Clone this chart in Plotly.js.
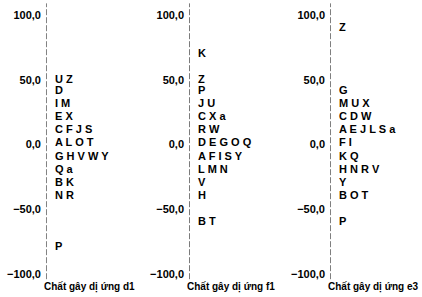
<!DOCTYPE html>
<html>
<head>
<meta charset="utf-8">
<script src="https://cdn.plot.ly/plotly-3.0.1.min.js"></script>
<style>html,body{margin:0;padding:0;background:#fff}#chart{width:422px;height:297px}</style>
</head>
<body>
<div id="chart"></div>
<script>
// Letters (samples) and their positions on each allergen scale
const letters = ["A","B","C","D","E","F","G","H","I","J","K","L","M","N","O","P","Q","R","S","T","U","V","W","X","Y","Z","a"];
const valuesD1 = [1,-30,11,41,21,11,-10,-10,31,11,-30,1,31,-40,1,-79,-20,-40,11,1,50,-10,-10,21,-10,50,-20];
const valuesF1 = [-10,-60,21,1,1,-10,1,-40,-10,31,70,-20,-20,-20,1,41,1,11,-10,-60,31,-30,11,21,-10,50,21];
const valuesE3 = [11,-40,21,21,11,1,41,-20,1,11,-10,11,31,-20,-40,-60,-10,-20,11,-40,31,-20,21,31,-30,90,11];
const panelTitles = ["Chất gây dị ứng d1","Chất gây dị ứng f1","Chất gây dị ứng e3"];
const tickValues = [-100,-50,0,50,100];

const series = [valuesD1, valuesF1, valuesE3];
const W = 422;
const font = {family: "Liberation Sans, Arial, sans-serif", size: 11, color: "#000", weight: "bold"};
const titleFont = {family: "Liberation Sans, Arial, sans-serif", size: 10, color: "#000", weight: "bold"};
const domains = [[0.109,0.40],[0.448,0.74],[0.782,1.0]];
const LABEL_GAP = 9; // px between axis line and letters

const traces = [];
const layout = {
  width: W, height: 297,
  margin: {l: 0, r: 0, t: 15, b: 23},
  paper_bgcolor: "#fff", plot_bgcolor: "#fff",
  showlegend: false,
  separators: ",.",
  font: font,
  shapes: [], annotations: []
};

series.forEach((vals, i) => {
  const sfx = i === 0 ? "" : String(i + 1);
  const widthPx = (domains[i][1] - domains[i][0]) * W;
  // group letters sharing a value into one row
  const rows = new Map();
  vals.forEach((v, k) => {
    if (!rows.has(v)) rows.set(v, []);
    rows.get(v).push(letters[k]);
  });
  const ys = [...rows.keys()];
  const txt = ys.map(v => rows.get(v).join(" "));
  traces.push({
    type: "scatter", mode: "text",
    x: ys.map(() => LABEL_GAP), y: ys, text: txt,
    textposition: "middle right",
    textfont: font,
    xaxis: "x" + sfx, yaxis: "y" + sfx,
    hoverinfo: "skip", cliponaxis: false
  });
  layout["xaxis" + sfx] = {
    domain: domains[i], range: [0, widthPx], visible: false, fixedrange: true,
    anchor: "y" + sfx
  };
  layout["yaxis" + sfx] = {
    domain: [0, 1], range: [-100, 100], anchor: "x" + sfx,
    tickvals: tickValues, tickformat: ".1f",
    showgrid: false, zeroline: false, showline: false, ticks: "",
    ticklabelstandoff: 4,
    tickfont: font
  };
  layout.shapes.push({
    type: "line", xref: "x" + sfx, yref: "y" + sfx + " domain",
    x0: 0, x1: 0, y0: -0.02, y1: 1.045,
    line: {color: "#000", width: 1, dash: "6px,2px"}
  });
  layout.annotations.push({
    text: panelTitles[i], xref: "x" + sfx + " domain", yref: "y" + sfx + " domain",
    x: 0, y: 0, xanchor: "left", yanchor: "middle", xshift: -4, yshift: -13,
    showarrow: false, font: titleFont
  });
});

Plotly.newPlot("chart", traces, layout, {staticPlot: true, displayModeBar: false});
</script>
</body>
</html>
